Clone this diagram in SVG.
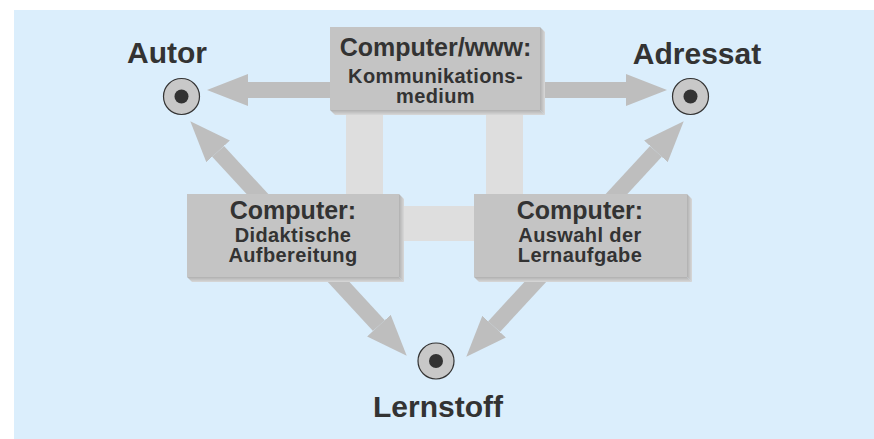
<svg xmlns="http://www.w3.org/2000/svg" width="874" height="439" viewBox="0 0 874 439">
<style>
text{font-family:"Liberation Sans",Arial,Helvetica,sans-serif;font-weight:bold;fill:#333;text-anchor:middle}
.lbl{font-size:30px}
.h{font-size:25px}
.s{font-size:20px;letter-spacing:0.4px}
.box{fill:#c4c4c4}
.pil{fill:#dedede}
.arr{stroke:#bebebe;stroke-width:16;fill:none}
.ring{fill:#c8c8c8;stroke:#333;stroke-width:1.2}
.dot{fill:#333}
</style>
<defs>
<marker id="ah" markerUnits="userSpaceOnUse" markerWidth="42" markerHeight="32" refX="0" refY="16" orient="auto-start-reverse">
<path d="M0,0 L41,16 L0,32 z" fill="#bebebe"/>
</marker>
<linearGradient id="gr" x1="0" y1="0" x2="1" y2="0"><stop offset="0" stop-color="#b0b0b0"/><stop offset="1" stop-color="#d8d8d8"/></linearGradient>
<linearGradient id="gb" x1="0" y1="0" x2="0" y2="1"><stop offset="0" stop-color="#b0b0b0"/><stop offset="1" stop-color="#d8d8d8"/></linearGradient>
</defs>
<rect x="14" y="10" width="860" height="429" fill="#dbeefc"/>
<g id="pillars">
<rect class="pil" x="346" y="110" width="37" height="90"/>
<rect class="pil" x="486" y="110" width="37" height="90"/>
<rect class="pil" x="395" y="206" width="85" height="35"/>
</g>
<g id="connectors">
<line class="arr" x1="340" y1="90" x2="248" y2="90" marker-end="url(#ah)"/>
<line class="arr" x1="530" y1="90" x2="626" y2="90" marker-end="url(#ah)"/>
<line class="arr" x1="218.1" y1="151.4" x2="378.9" y2="325.6" marker-start="url(#ah)" marker-end="url(#ah)"/>
<line class="arr" x1="655.9" y1="151.4" x2="494.1" y2="326.6" marker-start="url(#ah)" marker-end="url(#ah)"/>
</g>
<g id="top-box">
<polygon points="540,27 545,32 545,115 540,110" fill="url(#gr)"/>
<polygon points="330,110 540,110 545,115 335,115" fill="url(#gb)"/>
<rect class="box" x="330" y="27" width="210" height="83"/>
<text class="h" x="435.5" y="56">Computer/www:</text>
<text class="s" x="435.5" y="83">Kommunikations-</text>
<text class="s" x="435.5" y="103">medium</text>
</g>
<g id="left-box">
<polygon points="399,194 404,199 404,282 399,277" fill="url(#gr)"/>
<polygon points="187,277 399,277 404,282 192,282" fill="url(#gb)"/>
<rect class="box" x="187" y="194" width="212" height="83"/>
<text class="h" x="293" y="219">Computer:</text>
<text class="s" x="293" y="242">Didaktische</text>
<text class="s" x="293" y="262">Aufbereitung</text>
</g>
<g id="right-box">
<polygon points="687,194 692,199 692,282 687,277" fill="url(#gr)"/>
<polygon points="474,277 687,277 692,282 479,282" fill="url(#gb)"/>
<rect class="box" x="474" y="194" width="213" height="83"/>
<text class="h" x="580" y="219">Computer:</text>
<text class="s" x="580" y="242">Auswahl der</text>
<text class="s" x="580" y="262">Lernaufgabe</text>
</g>
<g id="autor">
<circle class="ring" cx="181.5" cy="96.5" r="18"/>
<circle class="dot" cx="181.5" cy="96.5" r="7"/>
<text class="lbl" x="167" y="63">Autor</text>
</g>
<g id="adressat">
<circle class="ring" cx="690.5" cy="96.5" r="18"/>
<circle class="dot" cx="690.5" cy="96.5" r="7"/>
<text class="lbl" x="697" y="64">Adressat</text>
</g>
<g id="lernstoff">
<circle class="ring" cx="436" cy="361" r="18"/>
<circle class="dot" cx="436" cy="361" r="7"/>
<text class="lbl" x="438" y="417">Lernstoff</text>
</g>
</svg>
